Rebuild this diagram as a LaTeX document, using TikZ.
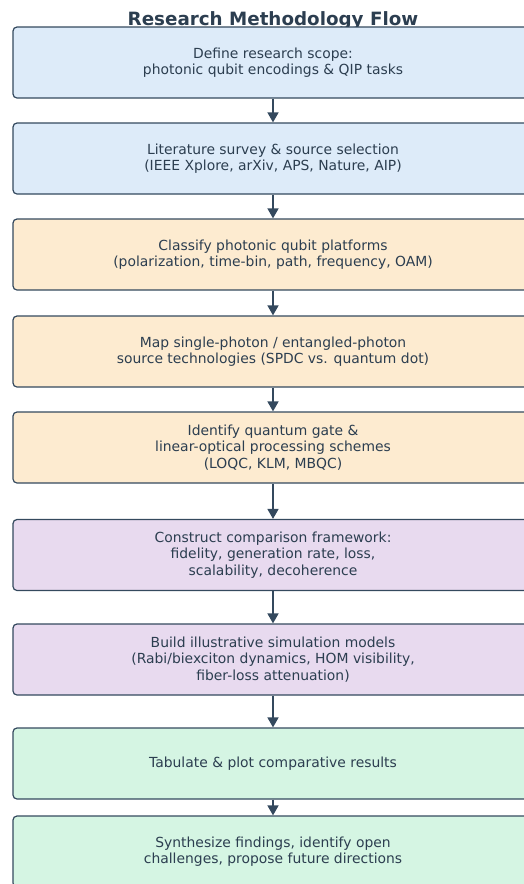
\documentclass[tikz,border=0pt]{standalone}
\usepackage{fontspec}
\setmainfont{DejaVu Sans}
\usetikzlibrary{arrows.meta}
\definecolor{edgec}{HTML}{34495E}
\definecolor{txtc}{HTML}{2C3E50}
\definecolor{fblue}{HTML}{DDEBF9}
\definecolor{forange}{HTML}{FDEBD0}
\definecolor{fpurple}{HTML}{E8DAEF}
\definecolor{fgreen}{HTML}{D5F5E3}
\tikzset{
  stepbox/.style={draw=edgec, line width=1.2pt, rounded corners=4pt,
    minimum width=520pt, minimum height=71pt, align=center,
    text=txtc, font=\fontsize{13.9}{16.5}\selectfont, inner sep=0pt},
  flow/.style={draw=edgec, line width=1.5pt, -{Triangle[width=11pt,length=10pt]}}
}
\begin{document}
\begin{tikzpicture}[x=1pt,y=1pt]
\useasboundingbox (0,0) rectangle (524,-884);
\clip (0,0) rectangle (524,-884);
\node[anchor=base, font=\fontsize{18.3}{20}\selectfont\bfseries, text=txtc] (title) at (273,-25) {Research Methodology Flow};
\node[stepbox, fill=fblue] (b1) at (273,-62.5) {Define research scope:\\photonic qubit encodings \& QIP tasks};
\node[stepbox, fill=fblue] (b2) at (273,-158.5) {Literature survey \& source selection\\(IEEE Xplore, arXiv, APS, Nature, AIP)};
\node[stepbox, fill=forange] (b3) at (273,-254.5) {Classify photonic qubit platforms\\(polarization, time-bin, path, frequency, OAM)};
\node[stepbox, fill=forange] (b4) at (273,-351.5) {Map single-photon / entangled-photon\\source technologies (SPDC vs. quantum dot)};
\node[stepbox, fill=forange] (b5) at (273,-447.5) {Identify quantum gate \&\\linear-optical processing schemes\\(LOQC, KLM, MBQC)};
\node[stepbox, fill=fpurple] (b6) at (273,-555) {Construct comparison framework:\\fidelity, generation rate, loss,\\scalability, decoherence};
\node[stepbox, fill=fpurple] (b7) at (273,-659.5) {Build illustrative simulation models\\(Rabi/biexciton dynamics, HOM visibility,\\fiber-loss attenuation)};
\node[stepbox, fill=fgreen] (b8) at (273,-763.5) {Tabulate \& plot comparative results};
\node[stepbox, fill=fgreen] (b9) at (273,-851.5) {Synthesize findings, identify open\\challenges, propose future directions};
\foreach \a/\b in {b1/b2,b2/b3,b3/b4,b4/b5,b5/b6,b6/b7,b7/b8,b8/b9}
  \draw[flow] (\a.south) -- (\b.north);
\end{tikzpicture}
\end{document}
